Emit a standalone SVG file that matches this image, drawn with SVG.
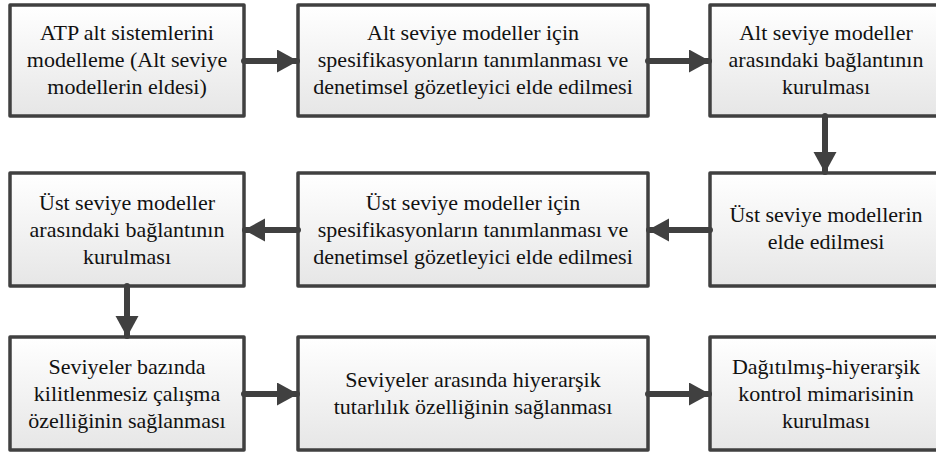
<svg xmlns="http://www.w3.org/2000/svg" width="936" height="455" viewBox="0 0 936 455">
  <defs>
    <linearGradient id="boxFill" x1="0" y1="0" x2="0" y2="1">
      <stop offset="0" stop-color="#ffffff"/>
      <stop offset="1" stop-color="#e6e6e6"/>
    </linearGradient>
    <marker id="head" markerUnits="userSpaceOnUse" markerWidth="22" markerHeight="24" refX="20" refY="11.5" orient="auto">
      <path d="M0,0 L21,11.5 L0,23 Z" fill="#404040"/>
    </marker>
  </defs>
  <style>
    .box { fill: url(#boxFill); stroke: #404040; stroke-width: 3.5; stroke-linejoin: round; }
    .lbl { font-size: 22px; fill: #111111; text-anchor: middle; }
    .conn { stroke: #404040; stroke-width: 6; stroke-linecap: round; fill: none; marker-end: url(#head); }
  </style>
  <rect width="936" height="455" fill="#ffffff"/>

  <g id="nodes" font-family="Liberation Serif, Times New Roman, serif">
    <!-- Row 1 -->
    <g id="n1">
      <rect class="box" x="10" y="5" width="234" height="111"/>
      <text class="lbl" x="127" y="40">ATP alt sistemlerini</text>
      <text class="lbl" x="127" y="67">modelleme (Alt seviye</text>
      <text class="lbl" x="127" y="94">modellerin eldesi)</text>
    </g>
    <g id="n2">
      <rect class="box" x="298" y="5" width="350" height="111"/>
      <text class="lbl" x="473" y="40">Alt seviye modeller için</text>
      <text class="lbl" x="473" y="67">spesifikasyonların tanımlanması ve</text>
      <text class="lbl" x="473" y="94">denetimsel gözetleyici elde edilmesi</text>
    </g>
    <g id="n3">
      <rect class="box" x="710" y="5" width="232" height="111"/>
      <text class="lbl" x="826" y="40">Alt seviye modeller</text>
      <text class="lbl" x="826" y="67">arasındaki bağlantının</text>
      <text class="lbl" x="826" y="94">kurulması</text>
    </g>

    <!-- Row 2 -->
    <g id="n4">
      <rect class="box" x="710" y="173" width="232" height="113"/>
      <text class="lbl" x="826" y="222">Üst seviye modellerin</text>
      <text class="lbl" x="826" y="249">elde edilmesi</text>
    </g>
    <g id="n5">
      <rect class="box" x="298" y="173" width="350" height="113"/>
      <text class="lbl" x="473" y="210">Üst seviye modeller için</text>
      <text class="lbl" x="473" y="237">spesifikasyonların tanımlanması ve</text>
      <text class="lbl" x="473" y="264">denetimsel gözetleyici elde edilmesi</text>
    </g>
    <g id="n6">
      <rect class="box" x="10" y="173" width="234" height="113"/>
      <text class="lbl" x="127" y="210">Üst seviye modeller</text>
      <text class="lbl" x="127" y="237">arasındaki bağlantının</text>
      <text class="lbl" x="127" y="264">kurulması</text>
    </g>

    <!-- Row 3 -->
    <g id="n7">
      <rect class="box" x="10" y="337" width="234" height="113"/>
      <text class="lbl" x="127" y="374">Seviyeler bazında</text>
      <text class="lbl" x="127" y="401">kilitlenmesiz çalışma</text>
      <text class="lbl" x="127" y="428">özelliğinin sağlanması</text>
    </g>
    <g id="n8">
      <rect class="box" x="298" y="337" width="350" height="113"/>
      <text class="lbl" x="473" y="387">Seviyeler arasında hiyerarşik</text>
      <text class="lbl" x="473" y="414">tutarlılık özelliğinin sağlanması</text>
    </g>
    <g id="n9">
      <rect class="box" x="710" y="337" width="232" height="113"/>
      <text class="lbl" x="826" y="374">Dağıtılmış-hiyerarşik</text>
      <text class="lbl" x="826" y="401">kontrol mimarisinin</text>
      <text class="lbl" x="826" y="428">kurulması</text>
    </g>
  </g>

  <!-- Connectors -->
  <g id="connectors">
    <line class="conn" x1="244" y1="61" x2="297" y2="61"/>
    <line class="conn" x1="648" y1="61" x2="709" y2="61"/>
    <line class="conn" x1="825" y1="116" x2="825" y2="172"/>
    <line class="conn" x1="710" y1="230" x2="649" y2="230"/>
    <line class="conn" x1="298" y1="230" x2="245" y2="230"/>
    <line class="conn" x1="127" y1="286" x2="127" y2="336"/>
    <line class="conn" x1="244" y1="394" x2="297" y2="394"/>
    <line class="conn" x1="648" y1="394" x2="709" y2="394"/>
  </g>
</svg>
